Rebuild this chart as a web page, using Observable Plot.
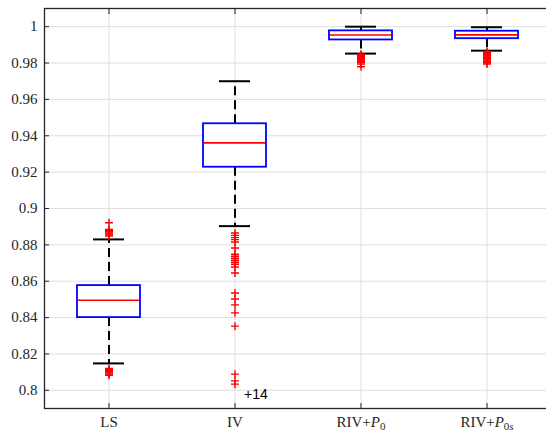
<!DOCTYPE html>
<html>
<head>
<meta charset="utf-8">
<script src="https://cdn.jsdelivr.net/npm/d3@7"></script>
<script src="https://cdn.jsdelivr.net/npm/@observablehq/plot@0.6"></script>
<style>
html, body { margin: 0; padding: 0; overflow: hidden; background: white; }
#chart svg { max-width: none !important; width: 552px !important; height: 432px !important; display: block; }
</style>
</head>
<body>
<div id="chart"></div>
<script>
// ---- data ----
const categories = ["LS", "IV", "RIV+P0", "RIV+P0s"];
const whiskerHigh = [0.8830, 0.9700, 1.0000, 0.9997];
const q3Values = [0.8576, 0.9466, 0.9977, 0.9975];
const medianValues = [0.8495, 0.9361, 0.9954, 0.9955];
const q1Values = [0.8400, 0.9227, 0.9927, 0.9934];
const whiskerLow = [0.8148, 0.8903, 0.9852, 0.9868];

const outliersLS = [0.8922, 0.8885, 0.8878, 0.8872, 0.8866, 0.8860, 0.8854, 0.8848,
  0.8120, 0.8114, 0.8108, 0.8102, 0.8096, 0.8090, 0.8083];
const outliersIV = [0.8865, 0.8852, 0.8840, 0.8829, 0.8816, 0.8783, 0.8748, 0.8737,
  0.8726, 0.8715, 0.8704, 0.8693, 0.8678, 0.8645, 0.8535, 0.8502, 0.8470, 0.8426,
  0.8353, 0.8089, 0.8052, 0.8034];
const outliersP0 = [0.9848, 0.9844, 0.9840, 0.9836, 0.9832, 0.9828, 0.9824, 0.9820,
  0.9816, 0.9812, 0.9808, 0.9804, 0.9795, 0.9780];
const outliersP0s = [0.9862, 0.9858, 0.9854, 0.9850, 0.9846, 0.9842, 0.9838, 0.9834,
  0.9830, 0.9826, 0.9822, 0.9817, 0.9810, 0.9802, 0.9795];
const hiddenCountIV = 14;
const yTicks = [0.8, 0.82, 0.84, 0.86, 0.88, 0.9, 0.92, 0.94, 0.96, 0.98, 1];

// ---- tables built from the arrays ----
const boxes = categories.map((c, i) => ({
  cat: c, hi: whiskerHigh[i], q3: q3Values[i], med: medianValues[i], q1: q1Values[i], lo: whiskerLow[i]
}));
const outlierLists = [outliersLS, outliersIV, outliersP0, outliersP0s];
const outliers = outlierLists.flatMap((arr, i) => arr.map(v => ({cat: categories[i], v})));
const notes = [{cat: "IV", v: 0.7978, label: "+" + hiddenCountIV}];

const axisColor = "#262626";
const fmt = d => String(+d.toFixed(2));
const blank = () => "";

const chart = Plot.plot({
  width: 552,
  height: 432,
  marginLeft: 44,
  marginRight: 2,
  marginTop: 8,
  marginBottom: 24,
  style: {fontFamily: "'Liberation Serif', serif", fontSize: "15px", color: axisColor, background: "white", maxWidth: "none"},
  x: {type: "band", domain: categories, paddingInner: 0.5, paddingOuter: 0.25, axis: null, label: null},
  y: {domain: [0.79, 1.01], axis: null, label: null},
  marks: [
    Plot.gridY(yTicks, {stroke: "#dfdfdf", strokeOpacity: 1}),
    Plot.gridX(categories, {stroke: "#dfdfdf", strokeOpacity: 1}),
    // whiskers
    Plot.ruleX(boxes, {x: "cat", y1: "q3", y2: "hi", stroke: "black", strokeWidth: 2, strokeDasharray: "9,5"}),
    Plot.ruleX(boxes, {x: "cat", y1: "q1", y2: "lo", stroke: "black", strokeWidth: 2, strokeDasharray: "9,5"}),
    Plot.tickY(boxes, {x: "cat", y: "hi", stroke: "black", strokeWidth: 2, insetLeft: 16, insetRight: 16}),
    Plot.tickY(boxes, {x: "cat", y: "lo", stroke: "black", strokeWidth: 2, insetLeft: 16, insetRight: 16}),
    // boxes
    Plot.barY(boxes, {x: "cat", y1: "q1", y2: "q3", fill: "white", stroke: "#0000ff", strokeWidth: 1.8}),
    Plot.tickY(boxes, {x: "cat", y: "med", stroke: "#ff0000", strokeWidth: 1.6, insetLeft: 1, insetRight: 1}),
    // outliers
    Plot.dot(outliers, {x: "cat", y: "v", symbol: "plus", r: 2.7, stroke: "#ff0000", strokeWidth: 1.4}),
    Plot.text(notes, {x: "cat", y: "v", text: "label", textAnchor: "start", dx: 9,
      fontFamily: "'Liberation Sans', Arial, sans-serif", fontSize: 14, fill: "black"}),
    // axes (labels)
    Plot.axisY(yTicks, {anchor: "left", label: null, tickSize: 0, tickPadding: 7, tickFormat: fmt, fill: axisColor}),
    Plot.axisX(categories, {anchor: "bottom", label: null, tickSize: 0, tickPadding: 8, fill: axisColor}),
    // inward ticks
    Plot.axisY(yTicks, {anchor: "left", label: null, tickSize: -5, tickFormat: blank, stroke: axisColor}),
    Plot.axisY(yTicks, {anchor: "right", label: null, tickSize: -5, tickFormat: blank, stroke: axisColor}),
    Plot.axisX(categories, {anchor: "bottom", label: null, tickSize: -5, tickFormat: blank, stroke: axisColor}),
    Plot.axisX(categories, {anchor: "top", label: null, tickSize: -5, tickFormat: blank, stroke: axisColor}),
    Plot.frame({stroke: axisColor, strokeWidth: 1.3})
  ]
});

document.getElementById("chart").appendChild(chart);

// typeset subscripts of the category labels
chart.querySelectorAll("text").forEach(t => {
  const s = t.textContent;
  if (s === "RIV+P0" || s === "RIV+P0s") {
    while (t.firstChild) t.removeChild(t.firstChild);
    const ns = "http://www.w3.org/2000/svg";
    const a = document.createElementNS(ns, "tspan"); a.textContent = "RIV+"; t.appendChild(a);
    const p = document.createElementNS(ns, "tspan"); p.textContent = "P"; p.setAttribute("font-style", "italic"); t.appendChild(p);
    const z = document.createElementNS(ns, "tspan"); z.textContent = "0"; z.setAttribute("font-size", "11px"); z.setAttribute("dy", "3"); t.appendChild(z);
    if (s === "RIV+P0s") {
      const q = document.createElementNS(ns, "tspan"); q.textContent = "s"; q.setAttribute("font-size", "11px"); q.setAttribute("font-style", "italic"); t.appendChild(q);
    }
  }
});
</script>
</body>
</html>
